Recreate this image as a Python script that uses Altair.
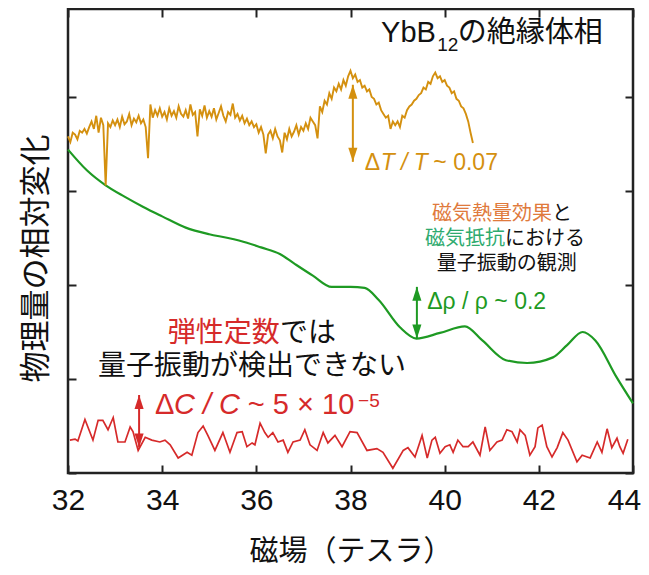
import altair as alt
import pandas as pd

FONT = "Liberation Sans, Arial, Noto Sans CJK JP, sans-serif"
ORANGE = "#D4900F"
GREEN = "#1E9A23"
RED = "#D62A2A"
TXT_ORANGE = "#E07A3C"
TXT_TEAL = "#2EAA6E"
BLACK = "#111111"
FRAME = "#222222"

# ---- data ----
x_ticks = [32, 34, 36, 38, 40, 42, 44]
y_ticks = [0, 1, 2, 3, 4]
X_DOMAIN = [32, 44]
Y_DOMAIN = [0, 4.936]

orange_x = [round(32 + 0.05 * i, 2) for i in range(173)]
orange_y = [
    3.58, 3.52, 3.62, 3.60, 3.55, 3.64, 3.62, 3.66, 3.61, 3.68,
    3.74, 3.66, 3.80, 3.62, 3.78, 3.70, 3.06, 3.72, 3.68, 3.75,
    3.70, 3.76, 3.68, 3.79, 3.71, 3.74, 3.82, 3.70, 3.77, 3.73,
    3.80, 3.72, 3.76, 3.68, 3.35, 3.92, 3.78, 3.86, 3.80, 3.88,
    3.79, 3.84, 3.76, 3.88, 3.80, 3.85, 3.78, 3.90, 3.82, 3.79,
    3.86, 3.77, 3.92, 3.81, 3.84, 3.58, 3.87, 3.80, 3.91, 3.78,
    3.85, 3.79, 3.88, 3.76, 3.83, 3.90, 3.80, 3.74, 3.84, 3.81,
    3.93, 3.78, 3.82, 3.75, 3.80, 3.72, 3.77, 3.70, 3.74, 3.68,
    3.71, 3.62, 3.68, 3.60, 3.40, 3.60, 3.64, 3.56, 3.66, 3.58,
    3.54, 3.41, 3.62, 3.55, 3.66, 3.58, 3.63, 3.70, 3.60, 3.68,
    3.64, 3.72, 3.66, 3.78, 3.74, 3.70, 3.56, 3.90, 3.84, 3.96,
    3.92, 4.04, 3.98, 4.10, 4.06, 4.14, 4.08, 4.18, 4.12, 4.22,
    4.28, 4.20, 4.24, 4.16, 4.18, 4.10, 4.12, 4.06, 4.08, 4.00,
    3.98, 3.92, 3.94, 3.86, 3.82, 3.78, 3.80, 3.66, 3.74, 3.70,
    3.74, 3.68, 3.80, 3.78, 3.86, 3.90, 3.92, 3.96, 3.98, 4.02,
    4.04, 4.10, 4.08, 4.16, 4.14, 4.22, 4.26, 4.20, 4.22, 4.16,
    4.18, 4.12, 4.10, 4.04, 4.06, 3.98, 3.96, 3.90, 3.88, 3.82,
    3.74, 3.62, 3.51,
]

green_x = [32.0, 32.4, 32.8, 33.2, 33.6, 34.0, 34.5, 35.0, 35.4, 35.8,
           36.1, 36.5, 36.8, 37.2, 37.6, 38.0, 38.3, 38.6, 39.05, 39.4,
           39.9, 40.43, 40.8, 41.3, 41.75, 42.3, 42.6, 42.93, 43.2, 43.65, 44.0]
green_y = [3.44, 3.22, 3.06, 2.94, 2.83, 2.73, 2.61, 2.54, 2.50, 2.45,
           2.40, 2.33, 2.23, 2.10, 1.98, 1.98, 1.97, 1.84, 1.55, 1.43,
           1.49, 1.56, 1.41, 1.20, 1.17, 1.23, 1.36, 1.50, 1.41, 1.02, 0.74]

red_x = [
    32.04, 32.15, 32.21, 32.36, 32.53, 32.64, 32.74, 32.85, 32.96, 33.06,
    33.21, 33.32, 33.38, 33.49, 33.64, 33.78, 33.95, 34.06, 34.17, 34.34,
    34.53, 34.63, 34.76, 34.87, 34.97, 35.12, 35.29, 35.44, 35.59, 35.70,
    35.80, 35.91, 35.97, 36.08, 36.18, 36.25, 36.35, 36.46, 36.57, 36.67,
    36.78, 36.93, 37.03, 37.14, 37.29, 37.42, 37.52, 37.67, 37.82, 37.99,
    38.14, 38.35, 38.56, 38.69, 38.90, 39.12, 39.22, 39.37, 39.52, 39.63,
    39.73, 39.80, 39.90, 40.01, 40.11, 40.18, 40.28, 40.39, 40.50, 40.60,
    40.75, 40.86, 40.96, 41.11, 41.22, 41.32, 41.43, 41.54, 41.60, 41.71,
    41.81, 41.92, 41.98, 42.07, 42.17, 42.28, 42.39, 42.51, 42.62, 42.81,
    42.92, 43.09, 43.24, 43.34, 43.45, 43.55, 43.66, 43.72, 43.79, 43.89,
]
red_y = [
    0.35, 0.36, 0.34, 0.57, 0.35, 0.56, 0.56, 0.46, 0.59, 0.33,
    0.33, 0.49, 0.44, 0.24, 0.38, 0.35, 0.33, 0.35, 0.30, 0.16,
    0.22, 0.19, 0.43, 0.50, 0.40, 0.24, 0.43, 0.22, 0.43, 0.44,
    0.28, 0.32, 0.30, 0.53, 0.43, 0.38, 0.43, 0.33, 0.35, 0.22,
    0.33, 0.35, 0.46, 0.30, 0.24, 0.43, 0.32, 0.40, 0.28, 0.44,
    0.43, 0.24, 0.26, 0.22, 0.05, 0.24, 0.27, 0.17, 0.40, 0.16,
    0.35, 0.38, 0.21, 0.28, 0.30, 0.22, 0.35, 0.28, 0.28, 0.33,
    0.19, 0.49, 0.24, 0.33, 0.35, 0.46, 0.44, 0.33, 0.46, 0.40,
    0.19, 0.28, 0.48, 0.51, 0.28, 0.17, 0.27, 0.43, 0.35, 0.12,
    0.19, 0.16, 0.33, 0.22, 0.47, 0.27, 0.37, 0.28, 0.21, 0.36,
]

# double arrows: x, top tip, bottom tip, colour
arrows = [
    {"x": 38.05, "top": 4.13, "bot": 3.31, "color": ORANGE},
    {"x": 39.41, "top": 1.98, "bot": 1.43, "color": GREEN},
    {"x": 33.51, "top": 0.83, "bot": 0.27, "color": RED},
]

# text annotations
labels_left = [
    {"x": 38.65, "y": 4.681, "t": "YbB", "c": BLACK, "s": 29},
    {"x": 39.84, "y": 4.553, "t": "12", "c": BLACK, "s": 19},
    {"x": 40.28, "y": 4.681, "t": "の絶縁体相", "c": BLACK, "s": 29},
    {"x": 38.30, "y": 3.298, "t": "Δ", "c": ORANGE, "s": 23},
    {"x": 39.76, "y": 3.298, "t": "~ 0.07", "c": ORANGE, "s": 23},
    {"x": 39.63, "y": 1.819, "t": "Δρ / ρ ~ 0.2", "c": GREEN, "s": 23},
    {"x": 39.73, "y": 2.755, "t": "磁気熱量効果", "c": TXT_ORANGE, "s": 20},
    {"x": 42.28, "y": 2.755, "t": "と", "c": BLACK, "s": 20},
    {"x": 39.58, "y": 2.489, "t": "磁気抵抗", "c": TXT_TEAL, "s": 20},
    {"x": 41.28, "y": 2.489, "t": "における", "c": BLACK, "s": 20},
    {"x": 34.12, "y": 1.479, "t": "弾性定数", "c": RED, "s": 28},
    {"x": 36.50, "y": 1.479, "t": "では", "c": BLACK, "s": 28},
    {"x": 33.85, "y": 0.723, "t": "Δ", "c": RED, "s": 29},
    {"x": 35.82, "y": 0.723, "t": "~ 5 × 10", "c": RED, "s": 29},
    {"x": 38.16, "y": 0.770, "t": "−5", "c": RED, "s": 19},
]
labels_italic = [
    {"x": 38.64, "y": 3.298, "t": "T / T", "c": ORANGE, "s": 23},
    {"x": 34.25, "y": 0.723, "t": "C / C", "c": RED, "s": 29},
]
labels_center = [
    {"x": 41.32, "y": 2.223, "t": "量子振動の観測", "c": BLACK, "s": 20},
    {"x": 35.91, "y": 1.128, "t": "量子振動が検出できない", "c": BLACK, "s": 28},
]

# ---- chart ----
xs = alt.Scale(domain=X_DOMAIN, nice=False, zero=False)
ys = alt.Scale(domain=Y_DOMAIN, nice=False, zero=False)

tick_style = dict(offset=-8, tickSize=8, tickWidth=2, tickColor=FRAME,
                  domain=False, grid=False)

ax_bottom = alt.Axis(orient="bottom", values=x_ticks, labelFontSize=30,
                     labelFont=FONT, labelColor=BLACK, labelPadding=27,
                     labelBaseline="middle", labelFlush=False,
                     labelOverlap=False,
                     labelOffset={"condition": {"test": "datum.value === 44",
                                                "value": -9},
                                  "value": 0},
                     title="磁場（テスラ）",
                     titleFont=FONT, titleFontSize=29, titleFontWeight="normal",
                     titleColor=BLACK, titleY=86, titleBaseline="middle",
                     **tick_style)
ax_top = alt.Axis(orient="top", values=x_ticks, labels=False, title="",
                  **tick_style)
ax_left = alt.Axis(orient="left", values=y_ticks, labels=False,
                   title="物理量の相対変化", titleFont=FONT, titleFontSize=31,
                   titleFontWeight="normal", titleColor=BLACK, titleAngle=270,
                   titleX=-40, titleY=249, titleAlign="center",
                   titleBaseline="middle", **tick_style)
ax_right = alt.Axis(orient="right", values=y_ticks, labels=False, title="",
                    **tick_style)

df_red = pd.DataFrame({"x": red_x, "y": red_y})
df_green = pd.DataFrame({"x": green_x, "y": green_y})
df_orange = pd.DataFrame({"x": orange_x, "y": orange_y})

red = alt.Chart(df_red).mark_line(color=RED, strokeWidth=1.7).encode(
    x=alt.X("x:Q", scale=xs, axis=ax_bottom),
    y=alt.Y("y:Q", scale=ys, axis=ax_left),
)
green = alt.Chart(df_green).mark_line(color=GREEN, strokeWidth=2.2,
                                      interpolate="monotone").encode(
    x=alt.X("x:Q", scale=xs, axis=ax_top),
    y=alt.Y("y:Q", scale=ys, axis=ax_right),
)
orange = alt.Chart(df_orange).mark_line(color=ORANGE, strokeWidth=1.9).encode(
    x=alt.X("x:Q", scale=xs, axis=None),
    y=alt.Y("y:Q", scale=ys, axis=None),
)

df_arr = pd.DataFrame(arrows)
arr_rule = alt.Chart(df_arr).mark_rule(strokeWidth=2).encode(
    x=alt.X("x:Q", scale=xs, axis=None),
    y=alt.Y("top:Q", scale=ys, axis=None),
    y2="bot:Q",
    color=alt.Color("color:N", scale=None),
)
UP = "M0,-1L0.65,1L-0.65,1Z"
DOWN = "M0,1L0.65,-1L-0.65,-1Z"
arr_up = alt.Chart(df_arr).mark_point(shape=UP, size=196, filled=True,
                                      opacity=1, yOffset=7).encode(
    x=alt.X("x:Q", scale=xs, axis=None),
    y=alt.Y("top:Q", scale=ys, axis=None),
    color=alt.Color("color:N", scale=None),
)
arr_down = alt.Chart(df_arr).mark_point(shape=DOWN, size=196, filled=True,
                                        opacity=1, yOffset=-7).encode(
    x=alt.X("x:Q", scale=xs, axis=None),
    y=alt.Y("bot:Q", scale=ys, axis=None),
    color=alt.Color("color:N", scale=None),
)


def text_layer(rows, **mark_kw):
    return alt.Chart(pd.DataFrame(rows)).mark_text(
        font=FONT, baseline="middle", **mark_kw).encode(
        x=alt.X("x:Q", scale=xs, axis=None),
        y=alt.Y("y:Q", scale=ys, axis=None),
        text="t:N",
        color=alt.Color("c:N", scale=None),
        size=alt.Size("s:Q", scale=None),
    )


t_left = text_layer(labels_left, align="left")
t_ital = text_layer(labels_italic, align="left", fontStyle="italic")
t_center = text_layer(labels_center, align="center")

chart = alt.layer(
    red, green, orange, arr_rule, arr_up, arr_down, t_left, t_ital, t_center
).resolve_axis(x="independent", y="independent").properties(
    width=565, height=464,
    autosize=alt.AutoSizeParams(type="none"),
    padding={"left": 60, "top": 1, "right": 8, "bottom": 92},
).configure_view(stroke=FRAME, strokeWidth=2.5)

chart.save("out.html", embed_options={"renderer": "svg", "actions": False})
